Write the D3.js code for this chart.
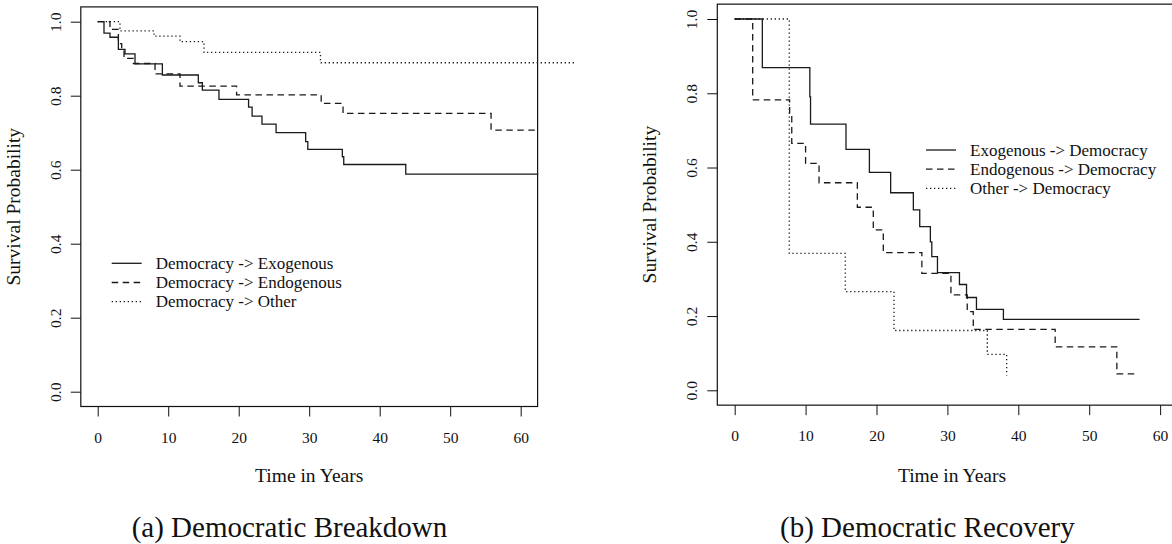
<!DOCTYPE html>
<html>
<head>
<meta charset="utf-8">
<script src="https://cdn.jsdelivr.net/npm/d3@7"></script>
<style>
  body { margin: 0; background: #fff; }
  svg { display: block; }
  svg text { font-family: "Liberation Serif", "DejaVu Serif", serif; fill: #111; }
</style>
</head>
<body>
<svg id="chart" width="1172" height="544"></svg>
<script>
// tick labels
const xTicks = [0, 10, 20, 30, 40, 50, 60];
const yTicks = [0, 0.2, 0.4, 0.6, 0.8, 1.0];

// (a) Democratic Breakdown - Kaplan-Meier steps
const breakExoTime = [0, 0.89, 1.74, 2.93, 3.87, 5.29, 9.17, 14.27, 14.84, 17.2, 21.4, 21.9, 23.3, 25.3, 29.5, 29.8, 34.7, 34.9, 43.7, 62.5];
const breakExoSurv = [1, 0.969, 0.958, 0.925, 0.913, 0.886, 0.856, 0.835, 0.815, 0.790, 0.769, 0.745, 0.723, 0.700, 0.676, 0.655, 0.635, 0.614, 0.588, 0.588];
const breakEndoTime = [0, 1.74, 2.93, 3.4, 3.73, 5.05, 8.13, 11.67, 19.7, 31.7, 34.8, 55.8, 62.4];
const breakEndoSurv = [1, 0.979, 0.941, 0.923, 0.901, 0.887, 0.859, 0.826, 0.802, 0.779, 0.752, 0.707, 0.707];
const breakOtherTime = [0, 3.16, 7.99, 11.67, 15.08, 31.6, 67.7];
const breakOtherSurv = [1, 0.975, 0.961, 0.946, 0.917, 0.889, 0.889];
const breakLabels = ["Democracy -> Exogenous", "Democracy -> Endogenous", "Democracy -> Other"];

// (b) Democratic Recovery
const recExoTime = [0, 3.9, 10.6, 10.7, 15.7, 19.0, 22.0, 25.2, 26.1, 27.6, 27.8, 28.6, 31.7, 32.7, 34.1, 37.9, 57.1];
const recExoSurv = [1, 0.869, 0.79, 0.717, 0.649, 0.587, 0.532, 0.486, 0.441, 0.400, 0.360, 0.317, 0.285, 0.250, 0.218, 0.191, 0.191];
const recEndoTime = [0, 2.54, 7.75, 8.05, 10.0, 11.9, 17.3, 19.55, 20.96, 26.4, 30.5, 32.8, 33.65, 45.2, 53.9, 56.5];
const recEndoSurv = [1, 0.782, 0.741, 0.665, 0.611, 0.559, 0.493, 0.432, 0.371, 0.315, 0.257, 0.212, 0.164, 0.117, 0.044, 0.044];
const recOtherTime = [0, 7.70, 15.6, 22.47, 35.63, 38.36];
const recOtherSurv = [1, 0.369, 0.266, 0.161, 0.097, 0.040];
const recLabels = ["Exogenous -> Democracy", "Endogenous -> Democracy", "Other -> Democracy"];

const styles = [
    { dash: null },
    { dash: "6.5,4.5" },
    { dash: "1.3,2.7" }
];

const FONT = '"Liberation Serif", "DejaVu Serif", serif';

const svg = d3.select('#chart');

function zip(t, s) {
    return t.map(function (d, i) { return { t: d, s: s[i] }; });
}

function drawPanel(p) {
    const x = d3.scaleLinear().domain(p.xDomain).range(p.xRange);
    const y = d3.scaleLinear().domain([0, 1]).range(p.yRange);
    const left = x(p.xDomain[0]), right = x(p.xDomain[1]);
    const top = y(1.04), bottom = y(-0.04);

    const g = svg.append('g').attr('font-family', FONT);

    // x axis
    const xa = g.append('g')
        .attr('transform', 'translate(0,' + bottom + ')')
        .call(d3.axisBottom(x).tickValues(xTicks).tickSize(10).tickFormat(d3.format('d')))
        .attr('font-family', FONT);
    xa.select('.domain').remove();
    xa.selectAll('line').attr('stroke', '#111');
    xa.selectAll('text')
        .attr('y', 36).attr('dy', 0)
        .style('font-size', '15.5px')
        .style('font-family', FONT)
        .attr('fill', '#111');

    // y axis, labels parallel to the axis
    const ya = g.append('g')
        .attr('transform', 'translate(' + left + ',0)')
        .call(d3.axisLeft(y).tickValues(yTicks).tickSize(10).tickFormat(d3.format('.1f')))
        .attr('font-family', FONT);
    ya.select('.domain').remove();
    ya.selectAll('line').attr('stroke', '#111');
    ya.selectAll('text')
        .attr('x', 0).attr('y', -20).attr('dy', 0)
        .attr('transform', 'rotate(-90)')
        .attr('text-anchor', 'middle')
        .style('font-size', '15.5px')
        .style('font-family', FONT)
        .attr('fill', '#111');

    // box
    g.append('rect')
        .attr('x', left).attr('y', top)
        .attr('width', right - left).attr('height', bottom - top)
        .attr('fill', 'none').attr('stroke', '#111').attr('stroke-width', 1.2);

    // survival curves
    const line = d3.line()
        .x(function (d) { return x(d.t); })
        .y(function (d) { return y(d.s); })
        .curve(d3.curveStepAfter);

    p.series.forEach(function (s, i) {
        g.append('path')
            .datum(s)
            .attr('fill', 'none')
            .attr('stroke', '#1a1a1a')
            .attr('stroke-width', 1.3)
            .attr('stroke-dasharray', styles[i].dash)
            .attr('d', line);
    });

    // legend
    p.labels.forEach(function (lab, i) {
        const ly = p.legendY + i * 19.2;
        g.append('line')
            .attr('x1', p.legendX).attr('x2', p.legendX + 30)
            .attr('y1', ly).attr('y2', ly)
            .attr('stroke', '#1a1a1a').attr('stroke-width', 1.3)
            .attr('stroke-dasharray', styles[i].dash);
        g.append('text')
            .attr('x', p.legendX + 44).attr('y', ly + 5.5)
            .style('font-size', '17px')
            .style('font-family', FONT)
            .text(lab);
    });

    // axis titles
    g.append('text')
        .attr('x', (left + right) / 2).attr('y', 482)
        .attr('text-anchor', 'middle')
        .style('font-size', '19.5px')
        .style('font-family', FONT)
        .text('Time in Years');
    g.append('text')
        .attr('transform', 'translate(' + (left - 61) + ',' + (top + bottom) / 2 + ') rotate(-90)')
        .attr('text-anchor', 'middle')
        .style('font-size', '19.5px')
        .style('font-family', FONT)
        .text('Survival Probability');

    // caption
    g.append('text')
        .attr('x', p.captionX).attr('y', 537)
        .style('font-size', '29px')
        .style('font-family', FONT)
        .text(p.caption);
}

drawPanel({
    xDomain: [-2.4, 62.4], xRange: [80.8, 537.6],
    yRange: [391.7, 21.7],
    series: [zip(breakExoTime, breakExoSurv), zip(breakEndoTime, breakEndoSurv), zip(breakOtherTime, breakOtherSurv)],
    labels: breakLabels,
    legendX: 111.7, legendY: 263.3,
    caption: '(a) Democratic Breakdown', captionX: 131.7
});

drawPanel({
    xDomain: [-2.45, 63.75], xRange: [717.3, 1186.7],
    yRange: [390.3, 19],
    series: [zip(recExoTime, recExoSurv), zip(recEndoTime, recEndoSurv), zip(recOtherTime, recOtherSurv)],
    labels: recLabels,
    legendX: 926, legendY: 150,
    caption: '(b) Democratic Recovery', captionX: 780
});
</script>
</body>
</html>
